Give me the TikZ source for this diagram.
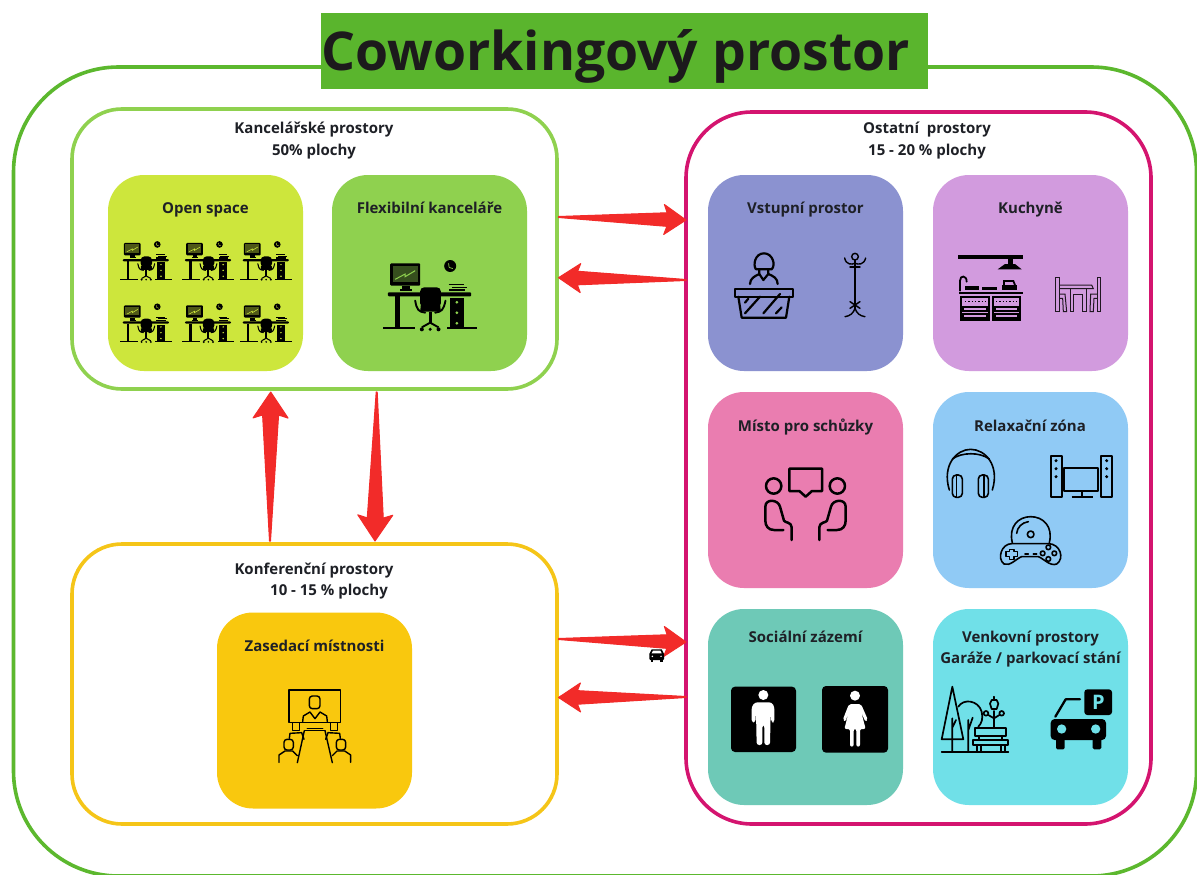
\documentclass[tikz,border=0pt]{standalone}
\usepackage{fontspec}
\setmainfont{Open Sans}
\usetikzlibrary{calc}
\definecolor{cOuter}{HTML}{5CB82E}
\definecolor{cTitle}{HTML}{5AB52D}
\definecolor{cTitleT}{HTML}{1C1A1C}
\definecolor{cOffice}{HTML}{8FD14F}
\definecolor{cOther}{HTML}{D4146F}
\definecolor{cConf}{HTML}{F5C518}
\definecolor{cOpen}{HTML}{CDE63C}
\definecolor{cFlex}{HTML}{8FD14F}
\definecolor{cVst}{HTML}{8B92D0}
\definecolor{cKuch}{HTML}{D29BDE}
\definecolor{cMisto}{HTML}{EA7DB0}
\definecolor{cRelax}{HTML}{90CAF5}
\definecolor{cSoc}{HTML}{6EC9B7}
\definecolor{cVenk}{HTML}{70E0E8}
\definecolor{cZas}{HTML}{F9C80E}
\definecolor{cRed}{HTML}{F22B29}
\definecolor{cText}{HTML}{1E2026}
\tikzset{
  zone/.style={draw,line width=3.6pt,rounded corners=#1,inner sep=0pt,outer sep=0pt,fill=white},
  card/.style={fill=#1,rounded corners=36pt,minimum width=195pt,minimum height=196pt,inner sep=0pt,outer sep=0pt},
  lbl/.style={anchor=base,inner sep=0pt,text=cText,font=\fontsize{15}{17}\selectfont\bfseries},
  ico/.style={line width=2.2pt,line cap=round,line join=round},
  tap/.style={fill=cRed,draw=cRed,line width=1pt,line join=round},
  zm/.style={x=.33333pt,y=-.33333pt}
}
% tapered arrow: tail, tip, head length, head half width, shaft half width at head
\newcommand{\taper}[5]{%
  \coordinate (hb) at ($(#2)!#3!(#1)$);
  \coordinate (hn) at ($(#2)!#3-3pt!(#1)$);
  \fill[tap] ($(#1)!.5pt!90:(#2)$) -- ($(hn)!#5!90:(#2)$) -- ($(hb)!#4!90:(#2)$) -- (#2)
     -- ($(hb)!#4!-90:(#2)$) -- ($(hn)!#5!-90:(#2)$) -- ($(#1)!.5pt!-90:(#2)$) -- cycle;
}
% desk icon; local origin = middle of the desk top, drawn in 3x units
\newcommand{\deskicon}[4]{%
\begin{scope}[shift={(#1,#2)},zm,scale=#3,shift={(-988,-372)}]
  \fill[rounded corners=1pt] (870,280) rectangle (960,347);
  \fill[#4!38!black] (878,288) rectangle (952,335);
  \draw[#4,line width=#3*1pt] (885,328) -- (915,312) -- (915,320) -- (945,302);
  \fill (905,347) rectangle (930,358);
  \fill (900,358) rectangle (935,363);
  \fill[rounded corners=1pt] (863,367) rectangle (1113,379);
  \fill (885,379) rectangle (899,475);
  \fill (847,472) rectangle (945,478);
  \fill (1040,472) rectangle (1130,478);
  \fill (1050,385) rectangle (1090,475);
  \foreach \yy in {397,428,460}{\fill[#4] (1070,\yy) circle (4.5);}
  \fill[rounded corners=4pt] (960,352) rectangle (1022,412);
  \fill (962,405) -- (1020,405) -- (1022,425) -- (960,425) -- cycle;
  \draw[line width=#3*1.9pt,line cap=round] (945,392) .. controls (950,420) and (955,425) .. (975,428);
  \draw[line width=#3*1.9pt,line cap=round] (1036,392) .. controls (1030,420) and (1025,425) .. (1005,428);
  \fill (985,425) rectangle (996,460);
  \draw[line width=#3*1.9pt] (965,472) -- (990,458) -- (1015,472);
  \fill (990,478) circle (5);\fill (965,478) circle (6);\fill (1015,478) circle (6);
  \fill (1050,288) circle (18);
  \draw[#4,line width=#3*.7pt] (1045,280) -- (1047,292) -- (1058,296);
  \draw[line width=#3*1.3pt] (1045,344) -- (1090,344) (1055,352) -- (1100,352);
  \fill (1045,358) rectangle (1095,364);
\end{scope}}
\begin{document}
\begin{tikzpicture}[x=1pt,y=-1pt]
\useasboundingbox (0,0) rectangle (1197,875);
\clip (0,0) rectangle (1197,875);
\fill[white] (0,0) rectangle (1197,875);
% outer frame
\node[zone=105pt,draw=cOuter,minimum width=1183pt,minimum height=809pt] (outer) at (605,471.5) {};
\node[fill=cTitle,minimum width=607pt,minimum height=76pt,inner sep=0pt] (titlebox) at (624.5,51) {};
\node[anchor=base,inner sep=0pt,text=cTitleT,font=\fontsize{53.5}{60}\selectfont\bfseries] (title) at (615.5,70.7) {Coworkingový prostor};
% zones
\node[zone=50pt,draw=cOffice,minimum width=485pt,minimum height=280pt] (office) at (314.5,249) {};
\node[zone=50pt,draw=cConf,minimum width=485pt,minimum height=280pt] (conf) at (314.5,684) {};
\node[zone=66pt,draw=cOther,minimum width=465pt,minimum height=712pt] (other) at (918.5,468) {};
\node[lbl] (tOffice1) at (314,133) {Kancelářské prostory};
\node[lbl] (tOffice2) at (314,155) {50\% plochy};
\node[lbl] (tConf1) at (314,574) {Konferenční prostory};
\node[lbl] (tConf2) at (329,595) {10 - 15 \% plochy};
\node[lbl] (tOther1) at (927,133) {Ostatní\ \ prostory};
\node[lbl] (tOther2) at (927,155) {15 - 20 \% plochy};
% cards
\node[card=cOpen] (open) at (205.5,273) {};
\node[card=cFlex] (flex) at (429.5,273) {};
\node[card=cVst] (vst) at (805.5,273) {};
\node[card=cKuch] (kuch) at (1030.5,273) {};
\node[card=cMisto] (misto) at (805.5,490) {};
\node[card=cRelax] (relax) at (1030.5,490) {};
\node[card=cSoc] (soc) at (805.5,707) {};
\node[card=cVenk] (venk) at (1030.5,707) {};
\node[card=cZas] (zas) at (314.5,710.5) {};
\node[lbl] at (205.5,213) {Open space};
\node[lbl] at (429.5,213) {Flexibilní kanceláře};
\node[lbl] at (805.5,213) {Vstupní prostor};
\node[lbl] at (1030.5,213) {Kuchyně};
\node[lbl] at (805.5,431) {Místo pro schůzky};
\node[lbl] at (1030,431) {Relaxační zóna};
\node[lbl] at (805.5,642) {Sociální zázemí};
\node[lbl] at (1030.5,642) {Venkovní prostory};
\node[lbl] at (1030.5,663) {Garáže / parkovací stání};
\node[lbl] at (314.5,651) {Zasedací místnosti};
% arrows
\coordinate (a1s) at ([xshift=1.5pt]office.east |- 0,217);
\coordinate (a1e) at (other.west |- 0,220);
\coordinate (a2s) at (other.west |- 0,280);
\coordinate (a2e) at ([xshift=1.5pt]office.east |- 0,277.7);
\coordinate (a3s) at ([xshift=1.5pt]conf.east |- 0,639);
\coordinate (a3e) at (other.west |- 0,642);
\coordinate (a4s) at (other.west |- 0,697);
\coordinate (a4e) at ([xshift=1.5pt]conf.east |- 0,697.5);
\coordinate (a5s) at (270,541);
\coordinate (a5e) at (270.7,392);
\coordinate (a6s) at (376.7,392);
\coordinate (a6e) at (375,541);
\taper{a1s}{a1e}{22pt}{15pt}{6.8pt}
\taper{a2s}{a2e}{22pt}{14.5pt}{6.8pt}
\taper{a3s}{a3e}{22pt}{15pt}{6.8pt}
\taper{a4s}{a4e}{22pt}{14.5pt}{6.8pt}
\taper{a5s}{a5e}{26pt}{17.5pt}{8pt}
\taper{a6s}{a6e}{26pt}{17.5pt}{8pt}
% desks
\foreach \xx in {145.8,208,265.8}{
  \deskicon{\xx}{260}{.555}{cOpen}
  \deskicon{\xx}{322.3}{.555}{cOpen}
}
\deskicon{429.5}{294}{1}{cFlex}
% small car by the arrow
\begin{scope}[shift={(550,610)},zm]
  \fill[rounded corners=1pt] (298,130) rectangle (342,150);
  \fill (305,118) -- (335,118) -- (342,132) -- (298,132) -- cycle;
  \fill[white] (309,122) -- (331,122) -- (335,130) -- (305,130) -- cycle;
  \fill (302,150) rectangle (310,156);\fill (330,150) rectangle (338,156);
  \fill[white] (307,139) circle (2.5);\fill[white] (333,139) circle (2.5);
\end{scope}
% zoom frame: Vstupni / Kuchyne
\begin{scope}[shift={(700,170)},zm]
  \begin{scope}[ico]
    \draw (168,298) .. controls (158,285) and (165,250) .. (192,250) .. controls (218,250) and (228,285) .. (215,298) -- (168,298);
    \draw (178,298) -- (178,312) -- (190,330) -- (205,312) -- (205,298);
    \draw (150,342) .. controls (150,325) and (165,318) .. (178,312) (205,312) .. controls (220,318) and (233,325) .. (233,342);
    \draw (105,357) rectangle (278,380);
    \draw (115,380) -- (125,443) -- (258,443) -- (268,380);
    \draw (135,430) -- (180,380) (190,430) -- (240,372) (135,398) -- (145,386) (228,430) -- (245,412);
  \end{scope}
  \begin{scope}[line width=1.4pt,line cap=round]
    \draw (465,260) circle (10);
    \draw (465,270) -- (465,418);
    \draw (434,264) .. controls (438,285) and (455,284) .. (465,280) .. controls (475,284) and (492,285) .. (497,264);
    \draw (450,291) -- (480,291);
    \draw (450,395) -- (480,415) (480,395) -- (450,415);
    \draw (435,440) .. controls (450,438) and (460,430) .. (465,415) .. controls (470,430) and (480,438) .. (495,440);
  \end{scope}
  \fill (773,256) rectangle (970,268);
  \fill (924,268) rectangle (938,282);
  \fill (893,298) -- (915,282) -- (945,282) -- (965,298) -- cycle;
  \fill (778,365) rectangle (968,372);
  \draw[line width=1.8pt,line cap=round] (780,362) -- (780,332) .. controls (780,315) and (800,315) .. (800,335);
  \fill (795,347) rectangle (838,361);
  \fill (845,350) rectangle (890,361);
  \fill (905,345) rectangle (950,361);
  \draw[line width=1.8pt] (912,345) -- (912,333) -- (940,333) -- (945,345);
  \begin{scope}[line width=1.8pt]
    \draw (782,380) rectangle (868,450);
    \draw (878,380) rectangle (960,450);
    \draw (790,410) rectangle (862,424);
    \draw (790,432) rectangle (862,443);
    \draw (885,410) rectangle (953,424);
    \draw (885,432) rectangle (953,443);
    \draw[dotted,line width=1.3pt] (795,394) -- (860,394);
    \draw[dotted,line width=1.3pt] (888,394) -- (952,394);
  \end{scope}
  \begin{scope}[line width=1pt,draw=black!85!cKuch]
    \draw (1067,323) -- (1067,425) -- (1078,425) -- (1078,323) -- cycle;
    \draw (1191,323) -- (1191,425) -- (1202,425) -- (1202,323) -- cycle;
    \draw (1078,345) -- (1175,345) -- (1180,356) -- (1078,356);
    \draw (1078,372) -- (1095,372) -- (1100,425) -- (1090,425) -- (1088,385) -- (1078,385);
    \draw (1191,372) -- (1172,372) -- (1170,425) -- (1180,425) -- (1182,385) -- (1191,385);
    \draw (1110,356) -- (1110,425) -- (1120,425) -- (1120,372) -- (1148,372) -- (1148,425) -- (1158,425) -- (1158,356);
  \end{scope}
\end{scope}
% zoom frame: Misto / Relax
\begin{scope}[shift={(700,390)},zm]
  \begin{scope}[line width=2.5pt,line cap=round,line join=round]
    \draw (268,236) -- (366,236) -- (366,303) -- (336,303) -- (317,320) -- (298,303) -- (268,303) -- cycle;
    \draw (221,288) circle (23);
    \draw (412,288) circle (23);
    \foreach \mx/\ox in {1/0,-1/633}{
      \begin{scope}[shift={(\ox,0)},xscale=\mx]
        \draw (250,420) -- (222,420) .. controls (205,420) and (196,408) .. (196,392) -- (196,350) .. controls (196,325) and (235,328) .. (240,350) -- (252,392) .. controls (254,398) and (275,396) .. (275,412) -- (275,450);
      \end{scope}
    }
  \end{scope}
  \begin{scope}[line width=1.6pt,line cap=round,line join=round]
    \draw (748,300) .. controls (725,225) and (770,178) .. (812,178) .. controls (855,178) and (900,225) .. (877,300);
    \draw (757,207) .. controls (785,186) and (840,186) .. (868,207);
    \draw[rounded corners=4pt] (757,255) rectangle (787,322);
    \draw[rounded corners=4pt] (835,255) rectangle (865,322);
    \draw (770,258) -- (770,320) (852,258) -- (852,320);
  \end{scope}
  \begin{scope}[line width=1.9pt,line join=round]
    \draw (1052,197) rectangle (1085,322);
    \draw (1203,197) rectangle (1235,322);
    \foreach \xx in {1068,1220}\foreach \yy in {212,236,260}{\fill (\xx,\yy) circle (5);}
    \draw (1093,233) rectangle (1195,303);
    \draw (1145,303) -- (1145,320) (1115,322) -- (1178,322);
  \end{scope}
  \begin{scope}[line width=1.6pt,line cap=round,line join=round]
    \draw (937,458) .. controls (925,410) and (955,380) .. (992,380) .. controls (1030,380) and (1060,410) .. (1048,458);
    \draw (992,433) circle (10);
    \draw (950,430) .. controls (952,412) and (965,398) .. (985,395);
    \draw (935,461) -- (1045,461) .. controls (1080,461) and (1095,505) .. (1070,522) .. controls (1050,530) and (1030,505) .. (1015,500) -- (965,500) .. controls (950,505) and (930,530) .. (912,522) .. controls (890,505) and (905,461) .. (935,461);
    \draw (928,478) -- (942,478) -- (942,485) -- (952,485) -- (952,499) -- (942,499) -- (942,508) -- (928,508) -- (928,499) -- (918,499) -- (918,485) -- (928,485) -- cycle;
    \draw (975,492) -- (985,492) (1000,492) -- (1010,492);
    \foreach \xx/\yy in {1045/472,1028/490,1063/490,1045/507}{\draw (\xx,\yy) circle (7);}
  \end{scope}
\end{scope}
% zoom frame: Socialni / Venkovni
\begin{scope}[shift={(700,605)},zm]
  \fill[rounded corners=4pt] (93,245) rectangle (288,441);
  \fill[rounded corners=4pt] (366,243) rectangle (564,443);
  \fill[white] (190,270) circle (15);
  \fill[white,rounded corners=2.5pt] (155,352) -- (155,305) -- (165,292) -- (215,292) -- (223,305) -- (223,352) -- (214,352) -- (212,320) -- (210,420) -- (193,420) -- (193,360) -- (187,360) -- (187,420) -- (170,420) -- (168,320) -- (166,352) -- cycle;
  \fill[white] (465,272) circle (15);
  \fill[white,rounded corners=2pt] (428,345) -- (447,297) -- (483,297) -- (504,345) -- (496,350) -- (484,322) -- (497,372) -- (480,372) -- (480,425) -- (469,425) -- (469,372) -- (461,372) -- (461,425) -- (450,425) -- (450,372) -- (433,372) -- (446,322) -- (436,350) -- cycle;
  \begin{scope}[line width=1.7pt,line cap=round,line join=round]
    \draw (757,245) -- (725,403) -- (790,403) -- cycle;
    \draw (757,340) -- (757,440) (757,368) -- (768,345);
    \draw (775,305) .. controls (790,280) and (835,285) .. (845,320) .. controls (850,340) and (845,355) .. (835,365);
    \draw (805,345) -- (805,440) (805,375) -- (818,338);
    \draw (725,441) -- (925,441);
    \draw (825,370) rectangle (918,392);
    \draw (818,405) rectangle (925,420);
    \draw (838,392) -- (838,405) (905,392) -- (905,405);
    \draw (830,420) -- (830,440) (842,420) -- (842,440) (902,420) -- (902,440) (914,420) -- (914,440);
    \draw (882,318) -- (882,368);
    \draw (882,275) -- (882,282);
    \draw (870,296) -- (875,285) -- (890,285) -- (895,296) -- (890,312) -- (875,312) -- cycle;
    \draw (858,325) circle (7) (905,325) circle (7);
    \draw (865,330) -- (882,340) -- (898,330);
  \end{scope}
  \fill[rounded corners=3pt] (1153,253) rectangle (1236,330);
  \node[inner sep=0pt,text=cVenk,font=\fontsize{20}{20}\selectfont\bfseries] (psign) at (1195,292) {P};
  \draw[line width=2.3pt,line cap=round,line join=round] (1140,283) -- (1097,283) -- (1066,335);
  \fill[rounded corners=4pt] (1052,342) rectangle (1218,405);
  \fill[cVenk] (1085,372) circle (14);
  \fill[cVenk] (1187,372) circle (14);
  \fill[rounded corners=1.5pt] (1068,400) rectangle (1094,433);
  \fill[rounded corners=1.5pt] (1178,400) rectangle (1204,433);
\end{scope}
% zoom frame: Zasedaci
\begin{scope}[shift={(210,610)},zm,line width=1.4pt,line cap=round,line join=round]
  \draw (237,240) rectangle (392,338);
  \draw[rounded corners=3pt] (298,258) rectangle (330,296);
  \draw (278,335) -- (280,318) -- (300,306) -- (315,326) -- (330,306) -- (350,318) -- (352,335);
  \draw (285,362) -- (345,362) (292,356) -- (338,356);
  \draw (283,362) -- (262,458) (345,362) -- (367,458);
  \foreach \mx/\ox in {1/0,-1/629}{
    \begin{scope}[shift={(\ox,0)},xscale=\mx]
      \draw (247,340) -- (247,362) -- (268,362) -- (268,340);
      \draw (238,385) -- (240,370) -- (275,368) -- (282,388);
      \draw[rounded corners=3pt] (222,388) rectangle (250,420);
      \draw (207,457) -- (207,435) -- (225,423) -- (248,423) -- (262,437);
    \end{scope}
  }
\end{scope}
\end{tikzpicture}
\end{document}
